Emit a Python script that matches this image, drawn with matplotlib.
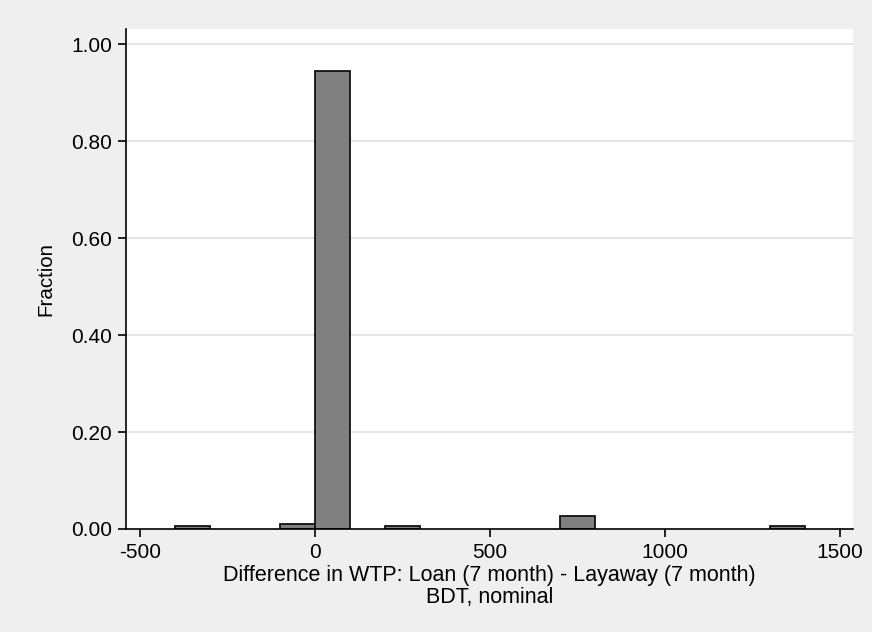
import numpy as np
import matplotlib.pyplot as plt

plt.rcParams['font.family'] = ['Liberation Sans', 'DejaVu Sans']
plt.rcParams['axes.unicode_minus'] = False

# histogram bins (left edge, width 100) and fractions
bin_left = [-400, -100, 0, 200, 700, 1300]
fraction = [1/180, 2/180, 170/180, 1/180, 5/180, 1/180]
bin_width = 100

xticks = [-500, 0, 500, 1000, 1500]
yticks = [0.0, 0.2, 0.4, 0.6, 0.8, 1.0]

fig = plt.figure(figsize=(8.72, 6.32), dpi=100, facecolor='#efefef')
ax = fig.add_axes([0.1445, 0.163, 0.8335, 0.791])
ax.set_facecolor('white')

for y in yticks[1:]:
    ax.axhline(y, color='#e6e6e6', lw=1.5, zorder=0)

ax.bar(bin_left, fraction, width=bin_width, align='edge',
       color='#808080', edgecolor='#111111', linewidth=1.3, zorder=2)

ax.set_xlim(-540, 1537)
ax.set_ylim(0, 1.031)
ax.set_xticks(xticks)
ax.set_yticks(yticks)
ax.set_yticklabels(['%.2f' % v for v in yticks])

for s in ['top', 'right']:
    ax.spines[s].set_visible(False)
for s in ['left', 'bottom']:
    ax.spines[s].set_linewidth(1.2)
ax.tick_params(axis='both', direction='out', length=6, width=1.2, labelsize=15, pad=4)

ax.set_xlabel('Difference in WTP: Loan (7 month) - Layaway (7 month)\nBDT, nominal',
              fontsize=15.5, labelpad=2.5, linespacing=1.05)
ax.set_ylabel('Fraction', fontsize=14.8, labelpad=11)

fig.savefig('out.png', dpi=100, facecolor=fig.get_facecolor())
